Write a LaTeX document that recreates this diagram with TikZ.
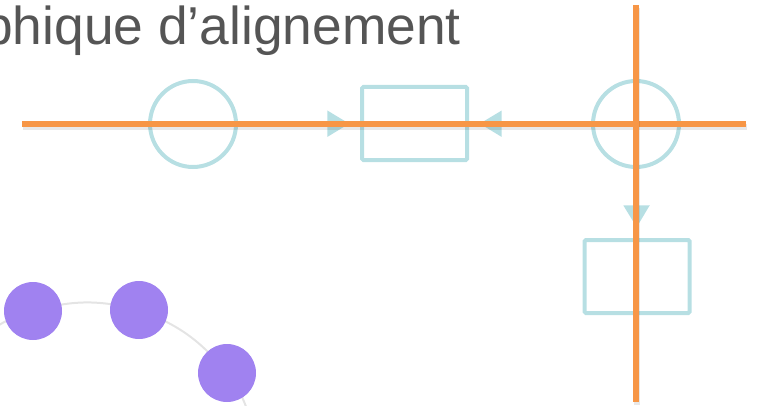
\documentclass[tikz,border=0pt]{standalone}
\usepackage{fontspec}
\setsansfont{Liberation Sans}
\usepackage{tikz}
\usepackage{xcolor}
\usetikzlibrary{positioning}
\usetikzlibrary{arrows.meta}

\definecolor{guideorange}{RGB}{247,150,70}
\definecolor{shapeteal}{RGB}{183,223,227}
\definecolor{dotpurple}{RGB}{160,130,240}
\definecolor{titlegray}{RGB}{85,85,85}
\definecolor{arcgray}{RGB}{228,228,228}

\begin{document}
\begin{tikzpicture}[
    x=0.75pt, y=-0.75pt,
    hub/.style={draw=shapeteal, circle, line width=3pt, minimum size=64.5pt, inner sep=0pt},
    box/.style={draw=shapeteal, line width=3pt, minimum width=78.75pt, minimum height=54.75pt, inner sep=0pt, rounded corners=1pt},
    dot/.style={circle, fill=dotpurple, minimum size=43.5pt, inner sep=0pt},
    shadowed/.style={preaction={draw=black, draw opacity=0.09, line width=4.5pt, transform canvas={shift={(0.6pt,-2pt)}}}},
    arrow/.style={-{Triangle[length=16.5pt, width=19pt]}, draw=shapeteal, line width=3pt, shorten <=3pt, shorten >=8pt},
    guide/.style={draw=guideorange, line width=4pt, shadowed},
    link/.style={draw=arcgray, line width=1.5pt}
]
    \useasboundingbox (0,0) rectangle (759,406);
    \clip (0,0) rectangle (759,406);

    % Title
    \node[anchor=base east, inner sep=0pt, text=titlegray,
          font=\sffamily\fontsize{40}{48}\selectfont] (title) at (461,45) {Graphique d’alignement};

    % Dots on the arc
    \coordinate (arcIn) at (-30,348);
    \coordinate (arcOut) at (252,428);
    \coordinate (dotA) at (33,311);
    \coordinate (dotB) at (139,310);
    \coordinate (dotC) at (227,373);
    \draw[link] (arcIn) to[bend left=14] (dotA) to[bend left=15] (dotB)
        to[bend left=15] (dotC) to[bend left=12] (arcOut);
    \node[dot] at (dotA) {};
    \node[dot] at (dotB) {};
    \node[dot] at (dotC) {};

    % Alignment shapes
    \node[hub] (hubL) at (193,124) {};
    \node[box] (boxM) at (414.5,123.5) {};
    \node[hub] (hubR) at (636,124) {};
    \node[box] (boxB) at (637,276.5) {};

    \draw[arrow, yshift=-1.5pt] (hubL) -- (boxM);
    \draw[arrow, yshift=-1.5pt] (hubR) -- (boxM);
    \draw[arrow] (hubR) -- (boxB);

    % Guides
    \coordinate (guideW) at (22,124);
    \coordinate (guideE) at (746,124);
    \coordinate (guideN) at (636,5);
    \coordinate (guideS) at (636,402);
    \draw[guide] (guideW) -- (guideE);
    \draw[guide] (guideN) -- (guideS);
\end{tikzpicture}
\end{document}
